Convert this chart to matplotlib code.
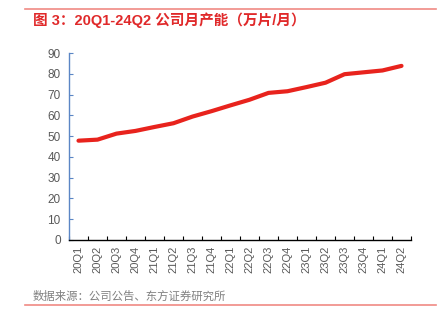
import matplotlib
matplotlib.use("Agg")
import matplotlib.pyplot as plt
from matplotlib.lines import Line2D

plt.rcParams['font.family'] = ['Liberation Sans', 'Noto Sans CJK SC', 'DejaVu Sans']

categories = ["20Q1", "20Q2", "20Q3", "20Q4", "21Q1", "21Q2", "21Q3", "21Q4",
              "22Q1", "22Q2", "22Q3", "22Q4", "23Q1", "23Q2", "23Q3", "23Q4",
              "24Q1", "24Q2"]
capacity = [47.8, 48.3, 51.2, 52.5, 54.4, 56.2, 59.4, 62.0,
            64.8, 67.5, 70.8, 71.6, 73.6, 75.7, 79.8, 80.7,
            81.6, 83.8]
yticks = [0, 10, 20, 30, 40, 50, 60, 70, 80, 90]

title = "图 3：20Q1-24Q2 公司月产能（万片/月）"
source = "数据来源：公司公告、东方证券研究所"

fig = plt.figure(figsize=(4.39, 3.24), dpi=100)
ax = fig.add_axes([69/439, (324-240)/324, (411-69)/439, (240-53)/324])

x = list(range(len(categories)))
ax.plot(x, capacity, color="#e8231d", lw=3.0, solid_capstyle="round", solid_joinstyle="round")

ax.set_xlim(-0.5, len(categories) - 0.5)
ax.set_ylim(0, 90)
ax.set_yticks(yticks)
ax.set_xticks([i - 0.5 for i in range(len(categories) + 1)], minor=False)
ax.set_xticklabels([])
ax.set_xticks(x, minor=True)
ax.set_xticklabels(categories, minor=True, rotation=90, fontsize=8, color="#595959")
ax.tick_params(axis="x", which="minor", length=0, pad=4)
ax.tick_params(axis="x", which="major", direction="in", length=3, color="black", width=0.8)
ax.tick_params(axis="y", direction="in", length=3, color="#5b86c5", width=0.8,
               labelsize=8.5, labelcolor="#595959", pad=6)

for s in ["top", "right"]:
    ax.spines[s].set_visible(False)
ax.spines["left"].set_color("#5b86c5")
ax.spines["left"].set_linewidth(1.0)
ax.spines["bottom"].set_color("black")
ax.spines["bottom"].set_linewidth(1.0)

fig.add_artist(Line2D([25/439, 436/439], [1 - 9/324, 1 - 9/324], color="#f08a84", lw=1.2))
fig.add_artist(Line2D([25/439, 436/439], [1 - 305/324, 1 - 305/324], color="#f08a84", lw=1.2))

fig.text(33/439, 1 - 20/324, title, fontsize=10.5, color="#e0292a", fontweight="bold",
         va="center", ha="left")
fig.text(33/439, 1 - 296/324, source, fontsize=8.2, color="#808080", va="center", ha="left")

fig.savefig("out.png", dpi=100)
